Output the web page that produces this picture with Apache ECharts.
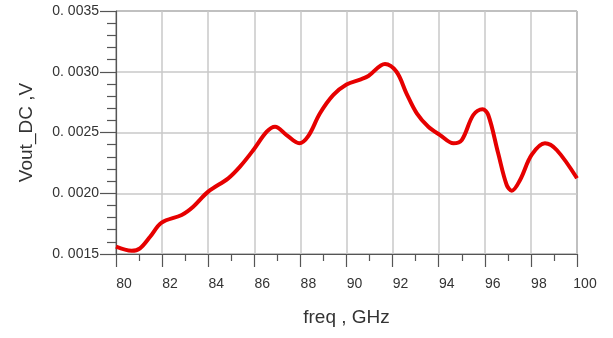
<!DOCTYPE html>
<html><head><meta charset="utf-8">
<script src="https://cdn.jsdelivr.net/npm/echarts@6/dist/echarts.min.js"></script>
<style>html,body{margin:0;padding:0;background:#fff}#c{width:613px;height:338px}</style>
</head><body><div id="c"></div>
<script>
var freq = [80.0, 80.68, 81.04, 81.48, 81.98, 82.85, 83.35, 84.0, 84.87, 85.38, 85.96, 86.54, 86.9, 87.4, 87.95, 88.34, 88.85, 89.43, 90.0, 90.59, 90.95, 91.67, 92.17, 92.6, 93.05, 93.55, 94.06, 94.64, 95.0, 95.5, 95.9, 96.15, 96.58, 96.95, 97.17, 97.53, 98.03, 98.61, 99.12, 100.0];
var vout = [0.00156, 0.001527, 0.001547, 0.001642, 0.001758, 0.001821, 0.001889, 0.002013, 0.002123, 0.002219, 0.002356, 0.002507, 0.002548, 0.002479, 0.002411, 0.00247, 0.002658, 0.002809, 0.002895, 0.002935, 0.002965, 0.003064, 0.0030, 0.002823, 0.002658, 0.002548, 0.002479, 0.002411, 0.002438, 0.002644, 0.002691, 0.002644, 0.002329, 0.002068, 0.002021, 0.002109, 0.002315, 0.002411, 0.002356, 0.002123];
var xTicks = [80, 82, 84, 86, 88, 90, 92, 94, 96, 98, 100];
var yTickLabels = ['0. 0015', '0. 0020', '0. 0025', '0. 0030', '0. 0035'];
var xTitle = 'freq , GHz';
var yTitle = 'Vout_DC ,V';

var data = freq.map(function (f, i) { return [f, vout[i]]; });
var chart = echarts.init(document.getElementById('c'), null, {renderer: 'canvas'});
var font = '"Liberation Sans", Arial, sans-serif';
chart.setOption({
  animation: false,
  grid: {left: 116, top: 11, right: 36, bottom: 84, show: true, borderColor: '#555', borderWidth: 1, backgroundColor: 'transparent'},
  xAxis: {
    type: 'value', min: xTicks[0], max: xTicks[xTicks.length - 1], interval: 2,
    name: xTitle, nameLocation: 'middle', nameGap: 54,
    nameTextStyle: {fontFamily: font, fontSize: 19, color: '#333'},
    axisLine: {show: true, lineStyle: {color: '#555', width: 1.2}},
    axisTick: {show: true, inside: false, length: 13, lineStyle: {color: '#555', width: 1.2}},
    minorTick: {show: true, splitNumber: 2, length: 7, lineStyle: {color: '#555', width: 1.2}},
    axisLabel: {fontFamily: font, fontSize: 14, color: '#333', margin: 23, padding: [0, 0, 0, 16],
      formatter: function (v) { return String(v); }},
    splitLine: {show: true, lineStyle: {color: '#c8c8c8', width: 1.5}}
  },
  yAxis: {
    type: 'value', min: 0.0015, max: 0.0035, interval: 0.0005,
    name: yTitle, nameLocation: 'middle', nameGap: 80, nameRotate: 90,
    nameTextStyle: {fontFamily: font, fontSize: 19, color: '#333'},
    axisLine: {show: true, lineStyle: {color: '#555', width: 1.2}},
    axisTick: {show: true, inside: false, length: 16, lineStyle: {color: '#555', width: 1.2}},
    minorTick: {show: true, splitNumber: 5, length: 9, lineStyle: {color: '#555', width: 1.2}},
    axisLabel: {fontFamily: font, fontSize: 14, color: '#333', margin: 17,
      formatter: function (v) {
        var i = Math.round((v - 0.0015) / 0.0005);
        return yTickLabels[i] || '';
      }},
    splitLine: {show: true, lineStyle: {color: '#c8c8c8', width: 1.5}}
  },
  series: [{
    type: 'line', data: data, smooth: 0.35, showSymbol: false, symbol: 'none',
    lineStyle: {color: '#e60000', width: 4}, clip: true
  }]
});
</script></body></html>
